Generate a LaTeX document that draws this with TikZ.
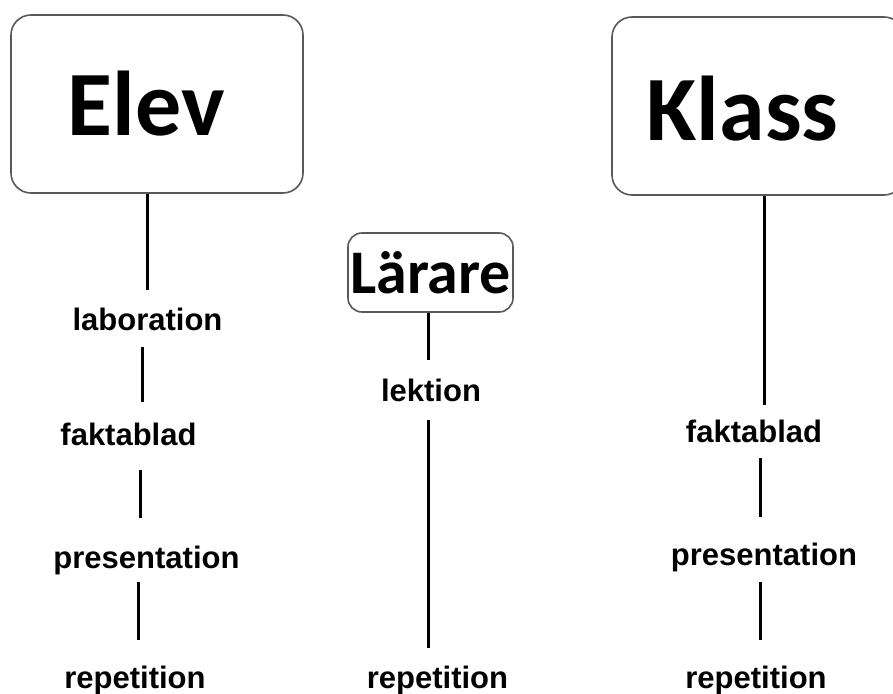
\documentclass[tikz,border=0pt]{standalone}
\usepackage{fontspec}
\setmainfont{Liberation Sans}
\newfontfamily\calfont{Carlito}
\begin{document}
\begin{tikzpicture}[x=1pt,y=-1pt,
  lbl/.style={font=\fontsize{31}{31}\selectfont\bfseries, inner sep=0pt, anchor=base},
  big/.style={font=\calfont\fontsize{92}{92}\selectfont\bfseries, inner sep=0pt, anchor=base},
  box/.style={draw=black!65, line width=1.6pt, rounded corners=20pt, fill=white},
  conn/.style={line width=3pt, black}]
\useasboundingbox (0,0) rectangle (893,693);
% boxes
\node[box, minimum width=292, minimum height=178] (elevbox) at (157,104) {};
\node[big] (elev) at (146,135) {Elev};
\node[box, minimum width=292, minimum height=178] (klassbox) at (758,106) {};
\node[big] (klass) at (742.5,140) {Klass};
\node[box, rounded corners=14pt, minimum width=165, minimum height=79, inner sep=0pt,
      font=\calfont\fontsize{62}{62}\selectfont\bfseries] (larare) at (430.5,272.5) {Lärare};
% left column
\node[lbl] (lab) at (147.5,330) {laboration};
\node[lbl] (fak1) at (128.5,445) {faktablad};
\node[lbl] (pre1) at (146.5,568) {presentation};
\node[lbl] (rep1) at (135,688) {repetition};
% middle column
\node[lbl] (lek) at (431,401) {lektion};
\node[lbl] (rep2) at (437.5,688) {repetition};
% right column
\node[lbl] (fak2) at (754,442) {faktablad};
\node[lbl] (pre2) at (764,565) {presentation};
\node[lbl] (rep3) at (756,688) {repetition};
% connector ends
\coordinate (a0) at (147,290);
\coordinate (a1t) at (142,347); \coordinate (a1b) at (142,402);
\coordinate (a2t) at (140,470); \coordinate (a2b) at (140,518);
\coordinate (a3t) at (138,582); \coordinate (a3b) at (138,640);
\coordinate (m0) at (428,360);
\coordinate (m1t) at (428,420); \coordinate (m1b) at (428,648);
\coordinate (r0) at (764,405);
\coordinate (r1t) at (760,458); \coordinate (r1b) at (760,517);
\coordinate (r2t) at (760,582); \coordinate (r2b) at (760,640);
% connectors
\draw[conn] (elevbox.south -| a0) -- (a0);
\draw[conn] (a1t) -- (a1b);
\draw[conn] (a2t) -- (a2b);
\draw[conn] (a3t) -- (a3b);
\draw[conn] (larare.south -| m0) -- (m0);
\draw[conn] (m1t) -- (m1b);
\draw[conn] (klassbox.south -| r0) -- (r0);
\draw[conn] (r1t) -- (r1b);
\draw[conn] (r2t) -- (r2b);
\end{tikzpicture}
\end{document}
